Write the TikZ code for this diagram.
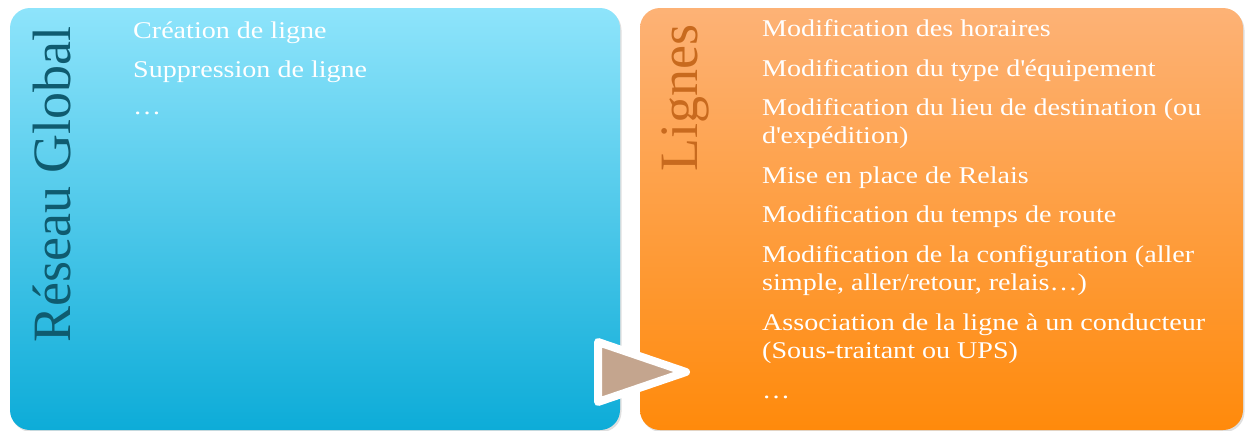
\documentclass[tikz,border=0pt]{standalone}
\usepackage{fontspec}
\setmainfont{Liberation Serif}
\newfontfamily\itemfont{Liberation Serif}[FakeStretch=1.17]
\usetikzlibrary{shadows}
\definecolor{bluetop}{HTML}{8EE4FB}
\definecolor{bluebot}{HTML}{0DACD8}
\definecolor{orangetop}{HTML}{FDB276}
\definecolor{orangebot}{HTML}{FF8A0B}
\definecolor{globaltxt}{HTML}{0F5B6F}
\definecolor{lignestxt}{HTML}{C86A1E}
\definecolor{arrowfill}{HTML}{C4A58E}
\newcommand\apos{\textquotesingle}
\begin{document}
\begin{tikzpicture}[x=1pt,y=-1pt,
    panel/.style={rounded corners=20pt, minimum width=#1, minimum height=422pt,
      inner sep=0pt, drop shadow={opacity=0.25, shadow xshift=1.5pt, shadow yshift=-2pt}},
    title/.style={rotate=90, anchor=base west, inner sep=0pt,
      font=\fontsize{54}{58}\selectfont},
    item/.style={anchor=base west, inner sep=0pt, text=white,
      font=\itemfont\fontsize{24}{28}\selectfont}]
  \useasboundingbox (0,0) rectangle (1245,431);
  \node[panel=610pt, top color=bluetop, bottom color=bluebot] (global) at (315,219) {};
  \node[panel=603pt, top color=orangetop, bottom color=orangebot] (lignes) at (941.5,219) {};
  \node[title, text=globaltxt] (tglobal) at (70,343) {Réseau Global};
  \node[title, text=lignestxt] (tlignes) at (697,172) {Lignes};
  \node[item] (g1) at (133,38) {Création de ligne};
  \node[item] (g2) at (133,77) {Suppression de ligne};
  \node[item] (g3) at (133,114) {…};
  \node[item] (l1) at (762,36) {Modification des horaires};
  \node[item] (l2) at (762,76) {Modification du type d\apos équipement};
  \node[item] (l3) at (762,115) {Modification du lieu de destination (ou};
  \node[item] (l3b) at (762,143) {d\apos expédition)};
  \node[item] (l4) at (762,183) {Mise en place de Relais};
  \node[item] (l5) at (762,222) {Modification du temps de route};
  \node[item] (l6) at (762,262) {Modification de la configuration (aller};
  \node[item] (l6b) at (762,290) {simple, aller/retour, relais…)};
  \node[item] (l7) at (762,330) {Association de la ligne à un conducteur};
  \node[item] (l7b) at (762,358) {(Sous-traitant ou UPS)};
  \node[item] (l8) at (762,398) {…};
  \draw[white, line width=8pt, line join=round, fill=arrowfill]
    (598,342) -- (598,402) -- (686,372) -- cycle;
\end{tikzpicture}
\end{document}
